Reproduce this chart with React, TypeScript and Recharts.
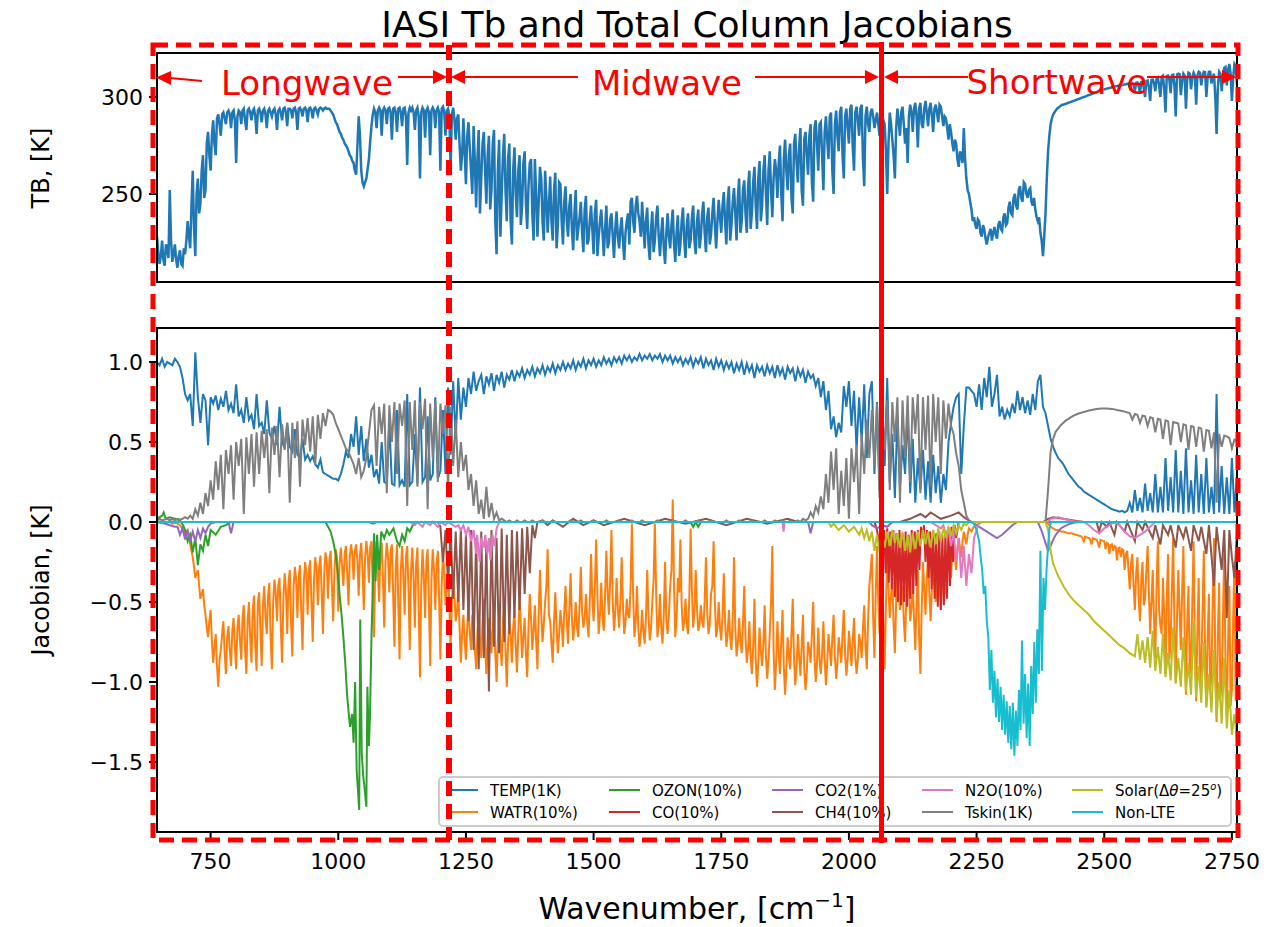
import React from 'react';
import { LineChart, Line, XAxis, YAxis } from 'recharts';

// ---------- axes / ticks ----------
const WN_START = 645;     // first channel of the main grid
const WN_STEP = 5;        // main grid spacing; *_HALF arrays sit half-way between
const X_DOMAIN: [number, number] = [645, 2760];
const X_TICKS = [750, 1000, 1250, 1500, 1750, 2000, 2250, 2500, 2750];
const TB_DOMAIN: [number, number] = [204.64, 322.68];
const TB_TICKS = [250, 300];
const JAC_DOMAIN: [number, number] = [-1.9375, 1.2125];
const JAC_TICKS = [-1.5, -1.0, -0.5, 0.0, 0.5, 1.0];

// ---------- brightness temperature [K], 645, 650, ... 2760 ----------
const TB_K = [
  228,214,226,213,222,252,215,224,212,221,213,219,236,222,262,218,258,245,270,252,
  282,262,288,270,291,280,292,286,293,284,293,266,293,286,294,283,294,288,294,281,
  294,287,294,284,294,290,294,283,294,288,294.5,285,294,289,294.5,283,294.5,290,294.5,287,
  294.5,289,294.5,291,294.5,293,294.5,294,293,291,287,284,281,278,275,272,269,266,260,290,
  262,254,258,268,285,294,284,294.5,280,294.5,286,294.5,278,294.5,282,294.5,285,294.5,265,294.5,
  294.5,283,294.5,258,294.5,279,294.5,270,294.5,284,294.5,262,295,280,294,264,294.5,278,291,262,
  289,255,287,262,285,243,283,258,282,245,280,252,283,219,278,250,281,236,276,224,
  274,238,270,244,272,232,266,240,268,228,264,236,262,230,259,226,261,234,255,224,
  254,228,250,221,252,232,246,220,249,226,244,219,247,228,242,218,244,225,240,217,
  241,222,238,216,236,224,248,230,249,236,246,222,243,216,241,226,244,218,238,214,
  240,222,242,215,239,224,243,217,240,226,244,219,242,228,246,220,243,229,248,222,
  247,230,251,224,254,234,253,226,258,236,257,230,262,240,264,232,267,244,270,234,
  272,238,268,248,275,236,278,252,276,240,281,256,284,244,282,260,286,246,288,262,
  287,252,290,268,292,250,293,272,295,258,294,276,296,262,295,280,296,254,295,282,
  294,284,292,280,291,286,250,292,278,258,294,280,295,276,266,296,282,297,274,297,
  284,298,285,297,282,296,287,295,285,289,278,282,272,276,264,270,284,258,250,242,
  238,232,236,228,232,224,230,226,233,227,236,231,240,235,246,239,250,242,254,246,
  255,248,253,244,242,236,230,218,240,272,286,291,293,294.5,295.5,296,296.5,297,297.5,298,
  298.5,299,299.5,300,300.5,301,301.5,302,302.5,303,303.5,304,304.3,304.6,305,305.3,305.6,306,306.2,306.5,
  306.8,305,307.2,303,307.5,302,308,300,308.5,298,309,303,310,300,311,292,311,302,311.5,290,
  312,301,312,294,312.5,304,312.5,296,313,306,313,300,313,307,312,281,313,303,315,306,
  317,298,317,306,
];
// TB at 647.5, 652.5, ... 2757.5
const TB_K_HALF = [
  220,218,216,224,217,226,219,216,218,214,222,226,228,244,232,250,240,262,248,276,
  270,280,276,289,286,291,289,292,291,292,288,290,292,293,288,293,292,293,290,293,
  292,293,291,293,292,293,291,293,292,294,292,294,293,294,292,294,293,294,293,294,
  293,294,293,294,294,294,294,294,292,289,286,282,279,276,274,270,267,262,275,280,
  256,256,263,277,291,292,293,293,293,293,294,292,294,292,294,292,294,290,292,293,
  292,293,290,292,293,293,292,293,293,293,292,294,292,293,290,291,288,289,276,270,
  272,280,274,250,266,268,240,276,262,270,242,276,236,262,228,270,252,268,236,262,
  250,262,234,266,245,254,268,226,250,246,258,226,248,244,236,252,222,256,236,246,
  236,244,232,240,226,238,230,242,224,236,232,240,218,236,230,232,222,237,228,232,
  228,232,226,230,240,246,236,244,240,228,234,236,224,232,220,238,228,230,222,230,
  228,234,224,230,218,236,226,234,222,238,226,236,222,240,230,238,224,240,234,236,
  238,244,236,246,226,246,240,248,230,252,240,254,232,256,244,258,236,262,250,262,
  252,258,262,266,250,268,262,270,248,276,266,274,252,278,270,280,256,284,276,286,
  270,282,278,290,262,286,280,292,270,290,284,294,274,292,288,294,268,290,286,292,
  290,288,286,287,288,272,276,286,270,284,287,292,286,284,290,292,294,290,294,286,
  294,292,294,290,294,292,296,290,290,284,286,276,278,268,272,266,268,252,246,236,
  234,237,230,234,227,228,232,230,229,234,232,238,234,243,240,248,244,252,248,256,
  250,252,246,248,238,238,226,228,258,280,289,292,294,295,296,296.3,296.8,297.2,297.8,298.2,
  298.8,299.2,299.8,300.2,300.8,301.2,301.8,302.2,302.8,303.2,303.8,304.1,304.5,304.8,305.1,305.5,305.8,306.1,306.3,306.6,
  306.9,307,306,307.3,305.5,307.8,304.5,308.2,305,308.8,307,309.5,306,310.5,304,310.8,309,311.2,306,311.6,
  311.8,308,311,309,312,310,311,311,312.5,311,312.8,310,313,310,300,305,312,311,315.5,314,
  312,310,316,
];

// ---------- Jacobians [K] on the main grid ----------
const TEMP_1K = [
  1.00,0.98,1.02,0.97,1.00,0.99,0.98,1.02,1.00,0.97,0.90,0.80,0.76,0.80,0.60,1.06,0.78,0.62,0.80,0.76,
  0.48,0.78,0.74,0.79,0.70,0.77,0.72,0.82,0.70,0.74,0.68,0.86,0.66,0.70,0.62,0.78,0.64,0.67,0.58,0.80,
  0.60,0.62,0.55,0.76,0.56,0.52,0.60,0.48,0.72,0.50,0.46,0.62,0.47,0.44,0.58,0.42,0.40,0.52,0.39,0.42,
  0.38,0.41,0.36,0.34,0.39,0.31,0.30,0.29,0.28,0.27,0.27,0.26,0.30,0.36,0.44,0.40,0.55,0.47,0.66,0.42,
  0.60,0.38,0.52,0.34,0.42,0.28,0.33,0.24,0.50,0.25,0.24,0.62,0.24,0.23,0.70,0.23,0.26,0.22,0.80,0.23,
  0.25,0.55,0.24,0.84,0.25,0.28,0.66,0.26,0.30,0.78,0.27,0.32,0.70,0.30,0.84,0.42,0.88,0.52,0.90,0.64,
  0.84,0.72,0.90,0.80,0.94,0.82,0.88,0.92,0.80,0.91,0.86,0.93,0.82,0.92,0.87,0.94,0.84,0.92,0.89,0.95,
  0.88,0.94,0.91,0.96,0.90,0.95,0.92,0.97,0.91,0.96,0.93,0.98,0.92,0.97,0.94,0.99,0.93,0.98,0.95,1.00,
  0.95,0.99,0.96,1.01,0.95,1.00,0.97,1.02,0.96,1.01,0.98,1.02,0.97,1.01,0.98,1.03,0.99,1.02,0.98,1.03,
  1.00,1.03,0.99,1.04,1.01,1.04,1.00,1.03,1.01,1.05,1.01,1.04,1.02,1.05,1.01,1.04,1.02,1.05,1.00,1.04,
  1.01,1.04,0.99,1.03,1.00,1.03,0.98,1.02,0.99,1.03,0.97,1.02,0.99,1.03,0.96,1.02,0.98,1.01,0.95,1.02,
  0.97,1.01,0.95,1.00,0.96,1.00,0.93,0.99,0.95,1.00,0.92,0.99,0.94,0.98,0.90,0.98,0.94,0.97,0.91,0.98,
  0.93,0.97,0.90,0.98,0.92,0.96,0.89,0.97,0.93,0.96,0.88,0.96,0.91,0.95,0.87,0.94,0.90,0.92,0.85,0.90,
  0.78,0.88,0.70,0.82,0.58,0.66,0.53,0.62,0.56,0.85,0.72,0.88,0.60,0.82,0.45,0.78,0.50,0.86,0.40,0.80,
  0.88,0.30,0.75,0.20,0.62,0.35,0.90,0.25,0.55,0.15,0.66,0.22,0.48,0.30,0.70,0.18,0.52,0.12,0.40,0.20,
  0.45,0.14,0.38,0.12,0.42,0.18,0.35,0.12,0.30,0.20,0.50,0.62,0.72,0.78,0.80,0.30,0.60,0.84,0.84,0.82,
  0.80,0.72,0.86,0.70,0.90,0.78,0.97,0.72,0.80,0.92,0.66,0.72,0.64,0.70,0.66,0.74,0.68,0.82,0.70,0.78,
  0.68,0.76,0.67,0.80,0.70,0.88,0.92,0.72,0.68,0.60,0.52,0.47,0.43,0.40,0.38,0.36,0.33,0.30,0.28,0.26,
  0.24,0.22,0.21,0.19,0.18,0.17,0.16,0.15,0.14,0.13,0.12,0.11,0.10,0.09,0.08,0.075,0.07,0.065,0.07,0.06,
  0.07,0.12,0.06,0.20,0.07,0.15,0.06,0.24,0.07,0.18,0.06,0.30,0.06,0.22,0.06,0.40,0.07,0.28,0.06,0.45,
  0.06,0.32,0.05,0.46,0.06,0.26,0.05,0.42,0.06,0.30,0.05,0.40,0.06,0.22,0.05,0.80,0.06,0.35,0.05,0.28,
  0.05,0.40,0.06,0.30,
];

const WATR_10 = [
  0,0,-0.005,0,-0.005,0,-0.01,-0.005,-0.01,-0.02,-0.04,-0.08,-0.05,-0.14,-0.22,-0.35,-0.30,-0.48,-0.42,-0.58,
  -0.72,-0.55,-0.88,-0.70,-1.03,-0.80,-0.62,-0.95,-0.65,-0.90,-0.60,-0.92,-0.58,-0.86,-0.52,-0.95,-0.50,-0.88,-0.46,-0.93,
  -0.44,-0.90,-0.40,-0.70,-0.38,-0.92,-0.36,-0.62,-0.35,-0.88,-0.32,-0.70,-0.30,-0.84,-0.28,-0.60,-0.27,-0.80,-0.25,-0.58,
  -0.24,-0.75,-0.22,-0.52,-0.21,-0.70,-0.19,-0.48,-0.18,-0.62,-0.17,-0.56,-0.16,-0.40,-0.15,-0.52,-0.14,-0.36,-0.14,-0.46,
  -0.13,-0.55,-0.12,-0.38,-0.12,-0.72,-0.12,-0.50,-0.13,-0.66,-0.13,-0.44,-0.14,-0.78,-0.14,-0.86,-0.15,-0.58,-0.15,-0.80,
  -0.16,-0.66,-0.16,-0.97,-0.17,-0.60,-0.17,-0.90,-0.17,-0.55,-0.18,-0.86,-0.20,-0.52,-0.30,-0.80,-0.35,-0.62,-0.40,-0.88,
  -0.58,-0.86,-0.50,-0.80,-0.62,-0.92,-0.55,-0.85,-0.48,-0.95,-0.60,-0.82,-0.52,-1.00,-0.58,-0.90,-0.50,-1.03,-0.62,-0.88,
  -0.55,-0.94,-0.48,-0.85,-0.60,-0.97,-0.45,-0.80,-0.52,-0.92,-0.30,-0.75,-0.50,-0.17,-0.62,-0.88,-0.44,-0.82,-0.55,-0.78,
  -0.40,-0.76,-0.32,-0.74,-0.50,-0.72,-0.28,-0.66,-0.45,-0.72,-0.20,-0.62,-0.11,-0.70,-0.38,-0.68,-0.18,-0.58,-0.05,-0.68,
  -0.35,-0.66,-0.22,-0.70,-0.48,-0.60,-0.01,-0.72,-0.40,-0.78,-0.55,-0.76,-0.30,-0.74,-0.50,-0.01,-0.72,-0.45,-0.76,-0.25,
  -0.70,-0.40,0.14,-0.72,-0.35,-0.11,-0.68,-0.48,-0.70,-0.04,-0.66,-0.30,-0.68,-0.52,-0.66,-0.22,-0.70,-0.45,-0.12,-0.72,
  -0.50,-0.74,-0.32,-0.78,-0.55,-0.80,-0.22,-0.84,-0.60,-0.82,-0.40,-0.88,-0.62,-0.95,-0.48,-1.03,-0.66,-0.90,-0.52,-0.98,
  -0.70,-0.15,-1.05,-0.62,-0.95,-0.55,-1.08,-0.72,-0.92,-0.48,-1.02,-0.70,-0.96,-0.58,-1.05,-0.75,-0.88,-0.50,-1.00,-0.66,
  -0.95,-0.62,-1.02,-0.70,-0.90,-0.58,-0.98,-0.72,-0.88,-0.55,-0.96,-0.68,-0.90,-0.60,-0.95,-0.70,-0.85,-0.52,-0.92,-0.40,
  -0.20,-0.85,-0.15,-0.70,-0.30,-0.92,-0.20,-0.60,-0.35,-0.82,-0.25,-0.55,-0.40,-0.75,-0.22,-0.62,-0.38,-0.80,-0.30,-0.95,
  -0.25,-0.58,-0.20,-0.62,-0.32,-0.50,-0.18,-0.55,-0.28,-0.45,-0.12,-0.35,-0.08,-0.30,-0.10,-0.22,-0.06,-0.14,-0.04,-0.06,
  -0.03,-0.02,-0.01,0,0,0,0,0,0,0,0,0,0,0,0,0,0,0,0,0,
  0,0,0,0,0,0,0,0,0,-0.01,-0.03,-0.04,-0.05,-0.05,-0.06,-0.06,-0.065,-0.07,-0.07,-0.075,
  -0.08,-0.085,-0.09,-0.12,-0.095,-0.10,-0.14,-0.105,-0.11,-0.16,-0.115,-0.12,-0.13,-0.20,-0.14,-0.15,-0.24,-0.16,-0.17,-0.30,
  -0.18,-0.42,-0.20,-0.55,-0.22,-0.62,-0.25,-0.48,-0.15,-0.70,-0.30,-0.85,-0.12,-0.65,-0.35,-0.95,-0.20,-0.75,-0.10,-1.00,
  -0.30,-0.80,-0.15,-1.08,-0.40,-0.85,-0.12,-1.12,-0.35,-0.90,-0.18,-1.15,-0.45,-0.95,-0.10,-1.25,-0.38,-1.00,-0.20,-1.22,
  -0.40,-1.05,-0.25,-0.90,
];
// WATR at 647.5, 652.5, ... 2757.5
const WATR_10_HALF = [
  0,-0.003,-0.002,-0.003,-0.002,-0.005,-0.008,-0.008,-0.015,-0.03,-0.06,-0.06,-0.10,-0.18,-0.28,-0.32,-0.40,-0.45,-0.52,-0.66,
  -0.62,-0.74,-0.78,-0.90,-0.86,-0.70,-0.82,-0.72,-0.80,-0.68,-0.78,-0.66,-0.74,-0.60,-0.80,-0.62,-0.72,-0.55,-0.78,-0.50,
  -0.68,-0.52,-0.60,-0.46,-0.72,-0.50,-0.44,-0.40,-0.66,-0.48,-0.42,-0.38,-0.62,-0.40,-0.36,-0.34,-0.56,-0.38,-0.32,-0.30,
  -0.50,-0.36,-0.30,-0.28,-0.44,-0.32,-0.26,-0.24,-0.40,-0.30,-0.22,-0.26,-0.28,-0.20,-0.32,-0.22,-0.20,-0.18,-0.24,-0.20,
  -0.30,-0.22,-0.20,-0.16,-0.40,-0.26,-0.30,-0.20,-0.36,-0.24,-0.22,-0.18,-0.46,-0.28,-0.50,-0.30,-0.34,-0.22,-0.42,-0.30,
  -0.36,-0.26,-0.54,-0.40,-0.34,-0.24,-0.50,-0.36,-0.30,-0.26,-0.48,-0.40,-0.32,-0.42,-0.52,-0.50,-0.46,-0.56,-0.66,-0.70,
  -0.74,-0.66,-0.70,-0.58,-0.80,-0.70,-0.74,-0.62,-0.78,-0.72,-0.68,-0.64,-0.82,-0.74,-0.76,-0.62,-0.80,-0.76,-0.70,-0.66,
  -0.78,-0.70,-0.64,-0.72,-0.82,-0.66,-0.60,-0.68,-0.74,-0.56,-0.58,-0.64,-0.40,-0.58,-0.76,-0.62,-0.66,-0.70,-0.64,-0.56,
  -0.62,-0.54,-0.60,-0.64,-0.66,-0.52,-0.56,-0.60,-0.62,-0.50,-0.48,-0.40,-0.46,-0.58,-0.60,-0.46,-0.44,-0.36,-0.50,-0.56,
  -0.54,-0.50,-0.52,-0.62,-0.58,-0.40,-0.46,-0.62,-0.66,-0.70,-0.68,-0.60,-0.58,-0.66,-0.36,-0.44,-0.64,-0.66,-0.58,-0.62,
  -0.58,-0.30,-0.40,-0.60,-0.44,-0.52,-0.62,-0.64,-0.46,-0.42,-0.56,-0.54,-0.64,-0.62,-0.50,-0.56,-0.64,-0.40,-0.50,-0.66,
  -0.66,-0.58,-0.62,-0.70,-0.72,-0.60,-0.66,-0.76,-0.74,-0.64,-0.72,-0.80,-0.84,-0.78,-0.86,-0.88,-0.80,-0.76,-0.84,-0.86,
  -0.50,-0.80,-0.88,-0.82,-0.74,-0.90,-0.92,-0.84,-0.70,-0.86,-0.90,-0.84,-0.78,-0.92,-0.94,-0.80,-0.70,-0.84,-0.88,-0.86,
  -0.82,-0.86,-0.88,-0.80,-0.72,-0.84,-0.88,-0.80,-0.70,-0.82,-0.86,-0.78,-0.74,-0.84,-0.86,-0.76,-0.66,-0.78,-0.62,-0.30,
  -0.60,-0.45,-0.50,-0.40,-0.66,-0.52,-0.42,-0.46,-0.64,-0.50,-0.44,-0.48,-0.62,-0.46,-0.40,-0.54,-0.60,-0.50,-0.72,-0.55,
  -0.42,-0.36,-0.44,-0.42,-0.40,-0.32,-0.40,-0.38,-0.34,-0.26,-0.22,-0.18,-0.20,-0.16,-0.16,-0.12,-0.10,-0.08,-0.05,-0.04,
  -0.025,-0.015,-0.005,0,0,0,0,0,0,0,0,0,0,0,0,0,0,0,0,0,
  0,0,0,0,0,0,0,0,-0.005,-0.02,-0.035,-0.045,-0.05,-0.055,-0.06,-0.062,-0.068,-0.07,-0.072,-0.078,
  -0.082,-0.088,-0.10,-0.092,-0.098,-0.11,-0.102,-0.108,-0.13,-0.112,-0.118,-0.17,-0.135,-0.145,-0.18,-0.155,-0.165,-0.22,-0.175,-0.20,
  -0.30,-0.26,-0.40,-0.32,-0.48,-0.36,-0.52,-0.30,-0.44,-0.50,-0.62,-0.40,-0.55,-0.70,-0.58,-0.48,-0.86,-0.42,-0.66,-0.60,
  -0.55,-0.44,-0.70,-0.62,-0.95,-0.50,-0.78,-0.66,-1.02,-0.56,-0.80,-0.72,-1.05,-0.48,-0.88,-0.70,-1.10,-0.60,-0.90,-0.75,
  -1.15,-0.60,-1.12,
];

const TSKIN_1K = [
  0.01,0.02,0.01,0.015,0.02,0.01,0.02,0.01,0.02,0.015,0.02,0.03,0.02,0.04,0.02,0.08,0.04,0.12,0.05,0.18,
  0.10,0.26,0.14,0.38,0.20,0.42,0.08,0.45,0.30,0.48,0.14,0.50,0.35,0.52,0.05,0.53,0.30,0.55,0.22,0.56,
  0.30,0.57,0.40,0.58,0.18,0.59,0.42,0.60,0.28,0.61,0.45,0.62,0.12,0.62,0.40,0.63,0.22,0.64,0.48,0.65,
  0.44,0.66,0.36,0.67,0.52,0.68,0.60,0.70,0.69,0.67,0.62,0.58,0.54,0.50,0.46,0.44,0.40,0.36,0.30,0.40,
  0.28,0.32,0.40,0.55,0.70,0.73,0.35,0.72,0.55,0.74,0.18,0.73,0.50,0.75,0.30,0.74,0.60,0.76,0.10,0.75,
  0.45,0.76,0.22,0.75,0.58,0.77,0.08,0.74,0.40,0.76,0.25,0.74,0.55,0.73,0.20,0.72,0.35,0.64,0.28,0.50,
  0.32,0.42,0.20,0.30,0.10,0.26,0.05,0.14,0.02,0.22,0.03,0.12,0.02,0.06,0.01,0.02,0.01,0,0.01,0,
  0,0.01,0,0,0.01,0,0,0.01,0,0,0,0.01,0,0,0,0.01,0,0,0,0,
  0,0,0.01,0,0,0,0.01,0,0,0,0,0.01,0,0,0,0,0.01,0,0,0,
  0,0.01,0,0,0,0,0.01,0,0,0,0.01,0,0,0,0,0,0.01,0,0,0,
  0,0,0.01,0,0,0,0,0.01,0,0,0,0,0.01,0,0,0,0,0.01,0,0,
  0,0,0,0.01,0,0,0,0,0.01,0,0,0,0,0.01,0,0,0,0,0.01,0,
  0,0,0.01,0,0,0.01,0,0,0.01,0,0,0.01,0,0.02,0.01,0.02,0.06,0.03,0.10,0.06,
  0.16,0.08,0.30,0.12,0.44,0.20,0.46,0.05,0.32,0.10,0.40,0.02,0.46,0.25,0.48,0.05,0.55,0.30,0.64,0.40,
  0.70,0.35,0.74,0.15,0.72,0.45,0.76,0.20,0.75,0.50,0.78,0.12,0.76,0.40,0.79,0.25,0.78,0.55,0.80,0.18,
  0.78,0.45,0.79,0.22,0.80,0.50,0.78,0.30,0.76,0.52,0.74,0.60,0.55,0.43,0.35,0.20,0.12,0.04,0.01,0,
  0,0,0,0,0,0,0,0,0,0,0,0,0,0,0,0,0,0,0,0,
  0,0,0,0,0,0,0,0,0,0.20,0.44,0.52,0.565,0.585,0.605,0.62,0.635,0.645,0.655,0.665,
  0.672,0.678,0.683,0.688,0.692,0.697,0.70,0.703,0.706,0.708,0.71,0.71,0.71,0.708,0.706,0.704,0.70,0.697,0.694,0.69,
  0.685,0.68,0.64,0.675,0.67,0.62,0.665,0.66,0.60,0.655,0.65,0.56,0.645,0.64,0.52,0.635,0.63,0.48,0.625,0.62,
  0.615,0.50,0.61,0.605,0.45,0.60,0.595,0.47,0.59,0.585,0.44,0.575,0.57,0.46,0.56,0.12,0.55,0.47,0.54,0.535,
  0.525,0.46,0.515,0.505,
];

// ---------- sparse series: [wavenumber, jacobian] ----------
const OZON_10 = [
  [645,0.02],[655,0.04],[658,0.06],[662,0.02],[670,0.03],[680,0.02],[690,0.01],[696,-0.02],[700,-0.05],[705,-0.12],
  [710,-0.08],[715,-0.19],[720,-0.10],[725,-0.27],[730,-0.14],[735,-0.18],[740,-0.08],[745,-0.15],[750,-0.05],[760,-0.08],
  [770,-0.03],[780,-0.02],[790,0],[975,0],[980,-0.03],[985,-0.06],[990,-0.12],[995,-0.20],[1000,-0.35],[1003,-0.47],
  [1007,-0.60],[1010,-0.72],[1014,-0.90],[1017,-1.07],[1020,-1.18],[1023,-1.28],[1027,-1.20],[1030,-1.38],[1033,-1.00],[1036,-1.55],
  [1039,-1.70],[1041,-1.80],[1043,-0.61],[1046,-1.45],[1049,-1.59],[1052,-1.68],[1055,-1.78],[1057,-1.03],[1060,-1.40],[1062,-1.22],
  [1065,-0.72],[1068,-0.36],[1070,-0.07],[1073,-0.37],[1076,-0.08],[1080,-0.30],[1084,-0.06],[1090,-0.10],[1095,-0.05],[1100,-0.08],
  [1108,-0.04],[1115,-0.12],[1120,-0.15],[1125,-0.08],[1130,-0.12],[1135,-0.04],[1140,-0.06],[1146,-0.02],[1155,0],[1690,0],
  [1695,-0.03],[1700,0],[1705,-0.03],[1710,0],[2760,0],
];
const CO_10 = [
  [645,0],[2050,0],[2055,-0.05],[2060,-0.15],[2063,-0.02],[2066,-0.25],[2069,-0.05],[2072,-0.32],[2075,-0.04],[2078,-0.38],
  [2081,-0.06],[2084,-0.42],[2087,-0.05],[2090,-0.47],[2093,-0.07],[2096,-0.50],[2099,-0.05],[2102,-0.52],[2105,-0.08],[2108,-0.50],
  [2111,-0.06],[2114,-0.53],[2117,-0.08],[2120,-0.48],[2123,-0.05],[2126,-0.45],[2129,-0.06],[2132,-0.40],[2135,-0.05],[2138,-0.30],
  [2141,-0.03],[2144,-0.10],[2147,-0.02],[2150,-0.25],[2153,-0.05],[2156,-0.35],[2159,-0.06],[2162,-0.42],[2165,-0.05],[2168,-0.48],
  [2171,-0.07],[2174,-0.53],[2177,-0.06],[2180,-0.55],[2183,-0.08],[2186,-0.52],[2189,-0.06],[2192,-0.48],[2195,-0.04],[2198,-0.40],
  [2201,-0.03],[2204,-0.25],[2207,-0.02],[2210,-0.10],[2215,0],[2760,0],
];
const CO2_1 = [
  [645,0],[660,-0.01],[670,-0.02],[680,-0.03],[685,-0.03],[690,-0.08],[695,-0.04],[700,-0.11],[705,-0.05],[710,-0.12],
  [715,-0.06],[720,-0.12],[725,-0.05],[730,-0.10],[735,-0.04],[740,-0.07],[745,-0.03],[750,-0.01],[760,0],[785,0],
  [790,-0.07],[795,0],[1060,0],[1068,-0.01],[1075,0],[1920,0],[1925,-0.07],[1930,0],[2040,0],[2045,-0.02],
  [2055,-0.04],[2065,-0.02],[2075,-0.03],[2085,0],[2240,0],[2250,-0.02],[2260,-0.04],[2270,-0.06],[2280,-0.08],[2290,-0.10],
  [2300,-0.08],[2310,-0.05],[2320,-0.02],[2330,0],[2370,0],[2378,-0.06],[2382,-0.10],[2386,-0.14],[2390,-0.18],[2395,-0.15],
  [2400,-0.11],[2405,-0.08],[2410,-0.06],[2415,-0.04],[2420,-0.03],[2430,-0.015],[2440,-0.005],[2450,0],[2760,0],
];
const CH4_10 = [
  [645,0],[1195,0],[1200,-0.03],[1205,-0.25],[1210,-0.05],[1215,-0.40],[1220,-0.04],[1225,-0.48],[1230,-0.06],[1235,-0.50],
  [1240,-0.04],[1245,-0.55],[1250,-0.08],[1255,-0.62],[1260,-0.05],[1265,-0.80],[1270,-0.10],[1275,-0.92],[1280,-0.06],[1285,-0.85],
  [1290,-0.12],[1295,-1.06],[1300,-0.05],[1305,-0.78],[1310,-0.10],[1315,-0.82],[1320,-0.04],[1325,-0.75],[1330,-0.08],[1335,-0.70],
  [1340,-0.05],[1345,-0.60],[1350,-0.06],[1355,-0.55],[1360,-0.04],[1365,-0.45],[1370,-0.03],[1375,-0.32],[1380,-0.02],[1385,-0.10],
  [1390,0],[1400,0.01],[1410,-0.02],[1420,0.01],[1440,-0.03],[1460,0.02],[1480,-0.02],[1500,0.01],[1520,-0.02],[1560,0.02],
  [1600,-0.02],[1640,0.02],[1680,-0.01],[1720,0.02],[1760,-0.02],[1800,0.02],[1840,-0.01],[1880,0.02],[1900,0],[2100,0],
  [2120,0.02],[2140,0.05],[2150,0.03],[2160,0.06],[2180,0.02],[2200,0.04],[2215,0.06],[2225,0.03],[2240,0],[2380,0],
  [2390,0.02],[2400,0.03],[2420,0.02],[2440,0.01],[2460,0],[2485,0],[2490,-0.06],[2495,0],[2505,-0.03],[2510,0],
  [2520,-0.08],[2525,0],[2540,-0.06],[2545,0],[2560,-0.12],[2565,0],[2575,-0.05],[2580,0],[2595,-0.10],[2600,-0.02],
  [2610,-0.14],[2615,-0.02],[2625,-0.08],[2630,-0.02],[2640,-0.16],[2645,-0.02],[2655,-0.10],[2660,-0.03],[2670,-0.18],[2675,-0.02],
  [2685,-0.12],[2690,-0.03],[2700,-0.20],[2705,-0.02],[2715,-0.40],[2720,-0.03],[2730,-0.30],[2735,-0.05],[2740,-0.60],[2745,-0.05],
  [2750,-0.22],[2755,-0.35],[2760,-0.05],
];
const N2O_10 = [
  [645,0],[1140,0],[1150,-0.02],[1155,0],[1165,-0.03],[1170,0],[1180,-0.02],[1185,0],[1195,-0.03],[1200,0],
  [1210,-0.02],[1215,0],[1220,-0.01],[1230,-0.03],[1235,-0.02],[1240,-0.05],[1245,-0.02],[1250,-0.08],[1255,-0.03],[1260,-0.12],
  [1265,-0.05],[1270,-0.20],[1272,-0.08],[1277,-0.25],[1280,-0.10],[1285,-0.16],[1288,-0.08],[1292,-0.20],[1295,-0.10],[1298,-0.24],
  [1302,-0.08],[1306,-0.15],[1310,-0.04],[1315,0],[1870,0],[1872,-0.06],[1874,0],[2160,0],[2170,-0.02],[2180,-0.04],
  [2185,-0.02],[2190,-0.08],[2195,-0.04],[2200,-0.15],[2205,-0.06],[2210,-0.25],[2215,-0.10],[2220,-0.35],[2225,-0.15],[2230,-0.40],
  [2235,-0.20],[2240,-0.32],[2245,-0.10],[2250,-0.05],[2255,0],[2390,0],[2395,0.02],[2410,0.03],[2420,0.02],[2440,0.005],
  [2460,0],[2470,-0.02],[2480,-0.05],[2490,-0.07],[2500,-0.04],[2510,-0.02],[2520,0],[2530,-0.02],[2540,-0.06],[2550,-0.09],
  [2560,-0.10],[2570,-0.08],[2580,-0.06],[2590,-0.03],[2600,0],[2760,0],
];
const SOLAR_25 = [
  [645,0],[1960,0],[1965,-0.03],[1970,-0.01],[1980,-0.05],[1990,-0.02],[2000,-0.06],[2010,-0.03],[2020,-0.08],[2025,-0.04],
  [2030,-0.10],[2035,-0.05],[2040,-0.12],[2045,-0.06],[2050,-0.18],[2055,-0.08],[2060,-0.19],[2065,-0.07],[2070,-0.16],[2075,-0.06],
  [2080,-0.15],[2085,-0.05],[2090,-0.13],[2095,-0.07],[2100,-0.16],[2105,-0.06],[2110,-0.18],[2115,-0.08],[2120,-0.19],[2125,-0.07],
  [2130,-0.17],[2135,-0.06],[2140,-0.15],[2145,-0.05],[2150,-0.14],[2155,-0.06],[2160,-0.16],[2165,-0.05],[2170,-0.14],[2175,-0.04],
  [2180,-0.12],[2185,-0.04],[2190,-0.10],[2195,-0.03],[2200,-0.09],[2205,-0.02],[2210,-0.07],[2215,-0.02],[2220,-0.05],[2225,-0.01],
  [2230,-0.02],[2235,0],[2385,0],[2390,-0.05],[2395,-0.18],[2400,-0.26],[2405,-0.30],[2410,-0.34],[2420,-0.40],[2430,-0.45],
  [2440,-0.49],[2450,-0.52],[2460,-0.55],[2470,-0.58],[2480,-0.62],[2490,-0.65],[2500,-0.68],[2510,-0.71],[2520,-0.74],[2530,-0.77],
  [2540,-0.79],[2550,-0.82],[2560,-0.84],[2565,-0.70],[2570,-0.86],[2575,-0.74],[2580,-0.88],[2585,-0.72],[2590,-0.91],[2595,-0.68],
  [2600,-0.93],[2605,-0.78],[2610,-0.95],[2615,-0.70],[2620,-0.97],[2625,-0.82],[2630,-0.99],[2635,-0.66],[2640,-1.01],[2645,-0.85],
  [2650,-1.03],[2655,-0.72],[2660,-1.06],[2665,-0.88],[2670,-1.08],[2675,-0.62],[2680,-1.10],[2685,-0.90],[2690,-1.13],[2695,-0.75],
  [2700,-1.16],[2705,-0.95],[2710,-1.19],[2715,-0.80],[2720,-1.22],[2725,-1.00],[2730,-1.26],[2735,-0.85],[2740,-1.29],[2745,-1.05],
  [2750,-1.33],[2755,-1.20],[2760,-1.37],
];
const NON_LTE = [
  [645,0],[2240,0],[2245,-0.01],[2250,-0.05],[2255,-0.12],[2258,-0.22],[2261,-0.30],[2264,-0.45],[2267,-0.40],[2270,-0.62],
  [2273,-0.72],[2276,-1.05],[2279,-0.80],[2282,-1.13],[2285,-0.93],[2288,-1.22],[2291,-0.98],[2294,-1.25],[2297,-1.03],[2300,-1.30],
  [2303,-1.08],[2306,-1.33],[2309,-1.12],[2312,-1.38],[2315,-1.15],[2318,-1.42],[2321,-1.13],[2324,-1.46],[2327,-1.18],[2330,-1.40],
  [2333,-1.05],[2336,-1.30],[2339,-0.74],[2342,-1.26],[2345,-0.95],[2348,-1.35],[2351,-1.01],[2354,-1.40],[2357,-0.90],[2360,-1.20],
  [2363,-0.75],[2366,-1.13],[2369,-0.67],[2372,-0.95],[2375,-0.18],[2378,-0.93],[2381,-0.35],[2384,-0.55],[2387,-0.30],[2390,-0.15],
  [2393,-0.03],[2396,0],[2760,0],
];

// ---------- legend / colours ----------
const SERIES_LABELS = ['TEMP(1K)','WATR(10%)','OZON(10%)','CO(10%)','CO2(1%)','CH4(10%)','N2O(10%)','Tskin(1K)','Solar','Non-LTE'];
const SERIES_COLORS = ['#1f77b4','#ff7f0e','#2ca02c','#d62728','#9467bd','#8c564b','#e377c2','#7f7f7f','#bcbd22','#17becf'];

// ---------- derived tables ----------
const gridWn = (i: number) => WN_START + WN_STEP * i;
const interleave = (main: number[], half: number[]) => {
  const out: { wn: number; v: number }[] = [];
  main.forEach((v, i) => {
    out.push({ wn: gridWn(i), v });
    if (i < half.length) out.push({ wn: gridWn(i) + WN_STEP / 2, v: half[i] });
  });
  return out;
};
const tbData = interleave(TB_K, TB_K_HALF);
const watrData = interleave(WATR_10, WATR_10_HALF);
const jacData = TEMP_1K.map((v, i) => ({ wn: gridWn(i), temp: v, tskin: TSKIN_1K[i] }));
const pairs = (arr: number[][]) => arr.map(([wn, v]) => ({ wn, v }));

// ---------- layout ----------
const PLOT_LEFT = 157;
const PLOT_RIGHT = 1237;
const TOP_PANEL = { top: 53, bottom: 282 };
const BOT_PANEL = { top: 328, bottom: 832 };

const FONT = 'DejaVu Sans';
const tickStyle = { fontSize: 22, fill: '#000', fontFamily: FONT };
const axisLine = { stroke: '#000', strokeWidth: 2 };
const RED = '#ff0000';

const fmtJac = (v: number) => (v < 0 ? '\u2212' : '') + Math.abs(v).toFixed(1);

function Arrow({ x1, x2, y }: { x1: number; x2: number; y: number }) {
  const dir = x2 > x1 ? 1 : -1;
  const base = x2 - dir * 14;
  return (
    <g>
      <line x1={x1} y1={y} x2={base} y2={y} stroke={RED} strokeWidth={1.8} />
      <polygon points={`${x2},${y} ${base},${y - 7} ${base},${y + 7}`} fill={RED} />
    </g>
  );
}

export default function App() {
  const lw = 2;
  return (
    <div style={{ position: 'absolute', left: 0, top: 0, width: 1288, height: 927, background: '#fff', fontFamily: FONT }}>
      {/* Top panel: brightness temperature */}
      <div style={{ position: 'absolute', left: 0, top: 0 }}>
        <LineChart width={1288} height={300} data={tbData} margin={{ top: TOP_PANEL.top, right: 1288 - PLOT_RIGHT, left: PLOT_LEFT - 60, bottom: 8 }}>
          <XAxis dataKey="wn" type="number" domain={X_DOMAIN} ticks={X_TICKS} allowDataOverflow
            tick={false} tickSize={8} height={10} axisLine={axisLine} tickLine={axisLine} />
          <YAxis type="number" domain={TB_DOMAIN} ticks={TB_TICKS} allowDataOverflow width={60}
            tick={tickStyle} tickSize={8} tickMargin={6} axisLine={axisLine} tickLine={axisLine} />
          <Line dataKey="v" stroke={SERIES_COLORS[0]} strokeWidth={2.5} dot={false} isAnimationActive={false} />
        </LineChart>
      </div>

      {/* Bottom panel: Jacobians */}
      <div style={{ position: 'absolute', left: 0, top: 300 }}>
        <LineChart width={1288} height={627} data={jacData} margin={{ top: BOT_PANEL.top - 300, right: 1288 - PLOT_RIGHT, left: PLOT_LEFT - 60, bottom: 55 }}>
          <XAxis dataKey="wn" type="number" domain={X_DOMAIN} ticks={X_TICKS} allowDataOverflow
            tick={tickStyle} tickSize={8} tickMargin={13} height={40} axisLine={axisLine} tickLine={axisLine} />
          <YAxis type="number" domain={JAC_DOMAIN} ticks={JAC_TICKS} allowDataOverflow width={60}
            tick={tickStyle} tickFormatter={fmtJac} tickSize={8} tickMargin={6} axisLine={axisLine} tickLine={axisLine} />
          <Line dataKey="temp" stroke={SERIES_COLORS[0]} strokeWidth={lw} dot={false} isAnimationActive={false} />
          <Line data={watrData} dataKey="v" stroke={SERIES_COLORS[1]} strokeWidth={lw} dot={false} isAnimationActive={false} />
          <Line data={pairs(OZON_10)} dataKey="v" stroke={SERIES_COLORS[2]} strokeWidth={lw} dot={false} isAnimationActive={false} />
          <Line data={pairs(CO_10)} dataKey="v" stroke={SERIES_COLORS[3]} strokeWidth={lw} dot={false} isAnimationActive={false} />
          <Line data={pairs(CO2_1)} dataKey="v" stroke={SERIES_COLORS[4]} strokeWidth={lw} dot={false} isAnimationActive={false} />
          <Line data={pairs(CH4_10)} dataKey="v" stroke={SERIES_COLORS[5]} strokeWidth={lw} dot={false} isAnimationActive={false} />
          <Line data={pairs(N2O_10)} dataKey="v" stroke={SERIES_COLORS[6]} strokeWidth={lw} dot={false} isAnimationActive={false} />
          <Line dataKey="tskin" stroke={SERIES_COLORS[7]} strokeWidth={lw} dot={false} isAnimationActive={false} />
          <Line data={pairs(SOLAR_25)} dataKey="v" stroke={SERIES_COLORS[8]} strokeWidth={lw} dot={false} isAnimationActive={false} />
          <Line data={pairs(NON_LTE)} dataKey="v" stroke={SERIES_COLORS[9]} strokeWidth={lw} dot={false} isAnimationActive={false} />
        </LineChart>
      </div>

      {/* Overlay: frames, titles, legend, annotations */}
      <svg width={1288} height={927} style={{ position: 'absolute', left: 0, top: 0, pointerEvents: 'none' }}
        fontFamily={FONT}>
        <rect x={PLOT_LEFT} y={TOP_PANEL.top} width={PLOT_RIGHT - PLOT_LEFT} height={TOP_PANEL.bottom - TOP_PANEL.top}
          fill="none" stroke="#000" strokeWidth={2} />
        <rect x={PLOT_LEFT} y={BOT_PANEL.top} width={PLOT_RIGHT - PLOT_LEFT} height={BOT_PANEL.bottom - BOT_PANEL.top}
          fill="none" stroke="#000" strokeWidth={2} />

        <text x={697} y={37} textAnchor="middle" fontSize={36} fill="#000">IASI Tb and Total Column Jacobians</text>
        <text transform="translate(49,168) rotate(-90)" textAnchor="middle" fontSize={24} fill="#000">TB, [K]</text>
        <text transform="translate(49,580) rotate(-90)" textAnchor="middle" fontSize={24} fill="#000">Jacobian, [K]</text>
        <text x={697} y={919} textAnchor="middle" fontSize={30} fill="#000">
          Wavenumber, [cm<tspan dy={-12} fontSize={20}>{'\u22121'}</tspan><tspan dy={12}>]</tspan>
        </text>

        {/* legend */}
        <rect x={439} y={777} width={792} height={49} rx={4} fill="#fff" fillOpacity={0.8} stroke="#cccccc" strokeWidth={2} />
        {SERIES_LABELS.map((lab, i) => {
          const colX = [447, 609, 772, 922, 1072][Math.floor(i / 2)];
          const y = i % 2 === 0 ? 790 : 812;
          return (
            <g key={lab}>
              <line x1={colX} x2={colX + 31} y1={y} y2={y} stroke={SERIES_COLORS[i]} strokeWidth={2} />
              <text x={colX + 43} y={y + 5.5} fontSize={15} fill="#000">
                {lab === 'Solar' ? (
                  <>Solar(Δ<tspan fontStyle="italic">θ</tspan>=25<tspan dy={-6} fontSize={10} fontStyle="italic">o</tspan><tspan dy={6}>)</tspan></>
                ) : lab}
              </text>
            </g>
          );
        })}

        {/* red annotations */}
        <rect x={153} y={45} width={1085} height={795} fill="none" stroke={RED} strokeWidth={5} strokeDasharray="15 8" />
        <line x1={449} x2={449} y1={45} y2={840} stroke={RED} strokeWidth={6} strokeDasharray="15 8" />
        <line x1={881.5} x2={881.5} y1={42} y2={843} stroke={RED} strokeWidth={5} />
        <text x={307} y={95} textAnchor="middle" fontSize={34} fill={RED}>Longwave</text>
        <text x={667} y={95} textAnchor="middle" fontSize={34} fill={RED}>Midwave</text>
        <text x={1057} y={94} textAnchor="middle" fontSize={34} fill={RED}>Shortwave</text>
        <line x1={202} y1={81} x2={170} y2={78} stroke={RED} strokeWidth={1.8} />
        <polygon points="156,77.5 171,71 171,85" fill={RED} />
        <Arrow x1={398} x2={447} y={77} />
        <Arrow x1={578} x2={451} y={77} />
        <Arrow x1={755} x2={879} y={77} />
        <Arrow x1={968} x2={884} y={77} />
        <Arrow x1={1147} x2={1236} y={77} />
      </svg>
    </div>
  );
}
